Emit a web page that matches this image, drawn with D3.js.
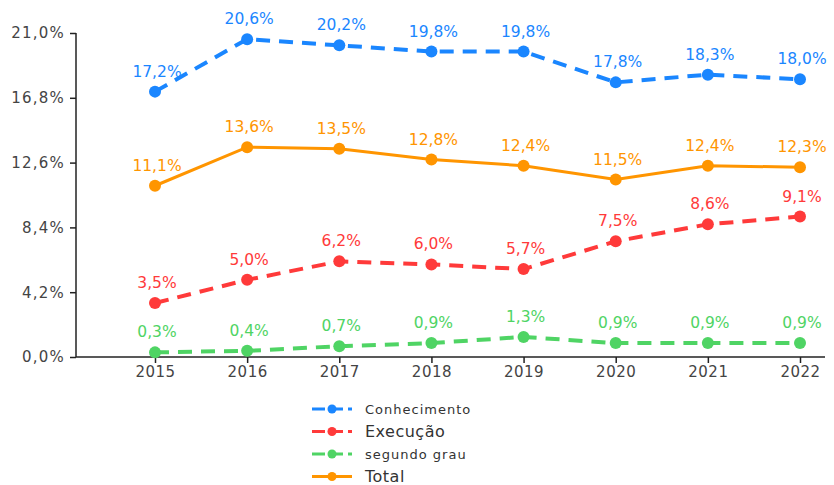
<!DOCTYPE html>
<html><head><meta charset="utf-8">
<script src="https://cdn.jsdelivr.net/npm/d3@7"></script>
<style>body{margin:0;background:#fff}</style>
</head><body>
<svg id="c" width="834" height="485"></svg>
<script>
const years = [2015, 2016, 2017, 2018, 2019, 2020, 2021, 2022];
const conhecimento = [17.2, 20.6, 20.2, 19.8, 19.8, 17.8, 18.3, 18.0];
const execucao = [3.5, 5.0, 6.2, 6.0, 5.7, 7.5, 8.6, 9.1];
const segundoGrau = [0.3, 0.4, 0.7, 0.9, 1.3, 0.9, 0.9, 0.9];
const total = [11.1, 13.6, 13.5, 12.8, 12.4, 11.5, 12.4, 12.3];
const yTicks = [0, 4.2, 8.4, 12.6, 16.8, 21.0];

const series = [
  {name: "Conhecimento", values: conhecimento, color: "#1a86ff", dash: "14,9", fs: 13},
  {name: "Execução", values: execucao, color: "#ff3a3a", dash: "14,9", fs: 16},
  {name: "segundo grau", values: segundoGrau, color: "#4fd464", dash: "14,9", fs: 13},
  {name: "Total", values: total, color: "#ff9500", dash: null, fs: 16}
];

const svg = d3.select("#c");
const font = "'DejaVu Sans',sans-serif";
const x = d3.scaleLinear().domain([2015, 2022]).range([155, 800]);
const y = d3.scaleLinear().domain([0, 21]).range([357, 33]);
const fmt = v => v.toFixed(1).replace(".", ",") + "%";

// axes
const ya = svg.append("g").attr("transform", "translate(76,0)")
  .call(d3.axisLeft(y).tickValues(yTicks).tickFormat(fmt).tickSize(6).tickPadding(5));
ya.select(".domain").attr("stroke", "#222").attr("stroke-width", 1.5).attr("d", "M0,33V357");
ya.selectAll("text").attr("font-family", font).attr("font-size", 15).attr("letter-spacing", 1.2).attr("fill", "#444");
ya.selectAll("line").attr("stroke", "#222").attr("stroke-width", 1.5);

const xa = svg.append("g").attr("transform", "translate(0,357)")
  .call(d3.axisBottom(x).tickValues(years).tickFormat(d3.format("d")).tickSize(6).tickPadding(3));
xa.select(".domain").attr("stroke", "#222").attr("stroke-width", 1.5).attr("d", "M76,0H825");
xa.selectAll("text").attr("font-family", font).attr("font-size", 15).attr("letter-spacing", 0.5).attr("fill", "#444");
xa.selectAll("line").attr("stroke", "#222").attr("stroke-width", 1.5);

const line = d3.line().x((d, i) => x(years[i])).y(d => y(d));

series.forEach(s => {
  const g = svg.append("g");
  g.append("path").datum(s.values).attr("d", line).attr("fill", "none")
    .attr("stroke", s.color).attr("stroke-width", s.dash ? 4 : 3)
    .attr("stroke-dasharray", s.dash);
  g.selectAll("circle").data(s.values).join("circle")
    .attr("cx", (d, i) => x(years[i])).attr("cy", d => y(d)).attr("r", 6)
    .attr("fill", s.color);
  g.selectAll("text").data(s.values).join("text")
    .attr("x", (d, i) => x(years[i]) + 2).attr("y", d => y(d) - 15)
    .attr("text-anchor", "middle").attr("font-family", font).attr("font-size", 15.5)
    .attr("fill", s.color).text(fmt);
});

// legend
const lg = svg.append("g");
series.forEach((s, i) => {
  const yy = 409 + i * 22.5;
  lg.append("line").attr("x1", 312).attr("x2", 352).attr("y1", yy).attr("y2", yy)
    .attr("stroke", s.color).attr("stroke-width", 3)
    .attr("stroke-dasharray", s.dash ? "13,5" : null);
  lg.append("circle").attr("cx", 332).attr("cy", yy).attr("r", 4.5).attr("fill", s.color);
  lg.append("text").attr("x", 365).attr("y", yy + 5).attr("font-family", font)
    .attr("font-size", s.fs).attr("letter-spacing", s.fs < 15 ? 1 : 0.5)
    .attr("fill", "#333").text(s.name);
});
</script>
</body></html>
